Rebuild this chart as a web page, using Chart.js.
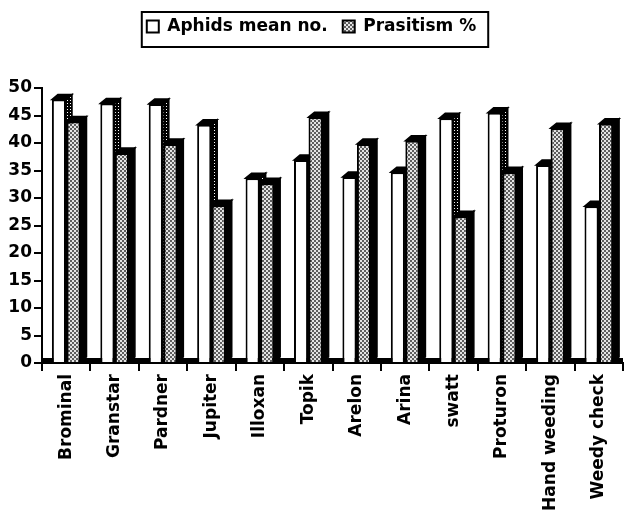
<!DOCTYPE html>
<html><head><meta charset="utf-8">
<script src="https://cdn.jsdelivr.net/npm/chart.js@4.4.1/dist/chart.umd.min.js"></script>
<style>html,body{margin:0;padding:0;background:#fff}#wrap{width:625px;height:513px}</style>
</head><body><div id="wrap"><canvas id="c" width="625" height="513"></canvas></div>
<script>
const categories = ['Brominal','Granstar','Pardner','Jupiter','Illoxan','Topik','Arelon','Arina','swatt','Proturon','Hand weeding','Weedy check'];
const aphidsMean = [47.9,47.2,47.1,43.3,33.6,36.9,33.8,34.7,44.5,45.5,36.0,28.5];
const parasitism = [43.9,38.2,39.8,28.7,32.7,44.7,39.8,40.4,26.7,34.7,42.7,43.5];
const seriesNames = ['Aphids mean no.','Prasitism %'];
const yMin = 0, yMax = 50, yStep = 5;

const DX = 6, DY = 5;
const FONT = "'DejaVu Sans', sans-serif";

function makePattern(w, h, draw) {
  const c = document.createElement('canvas'); c.width = w; c.height = h;
  const g = c.getContext('2d'); draw(g);
  return document.getElementById('c').getContext('2d').createPattern(c, 'repeat');
}
const grayPat = makePattern(4, 4, g => {
  g.fillStyle = '#5e5e5e'; g.fillRect(0,0,4,4);
  g.fillStyle = '#e4e4e4'; g.fillRect(0,0,2,2); g.fillRect(2,2,2,2);
});
const sidePat = makePattern(3, 3, g => {
  g.fillStyle = '#000'; g.fillRect(0,0,3,3);
  g.fillStyle = '#fff'; g.fillRect(1,1,1,1);
});

const depthPlugin = {
  id: 'depth',
  beforeDatasetsDraw(chart) {
    const {ctx, chartArea: a} = chart;
    ctx.save(); ctx.fillStyle = '#000';
    ctx.fillRect(a.left, a.bottom - DY, a.right - a.left, DY);
    ctx.strokeStyle = '#000'; ctx.lineWidth = 1.5; ctx.lineJoin = 'miter';
    const metas = [chart.getDatasetMeta(0), chart.getDatasetMeta(1)];
    for (let i = 0; i < categories.length; i++) {
      metas.forEach((meta, di) => {
        const bar = meta.data[i]; if (!bar) return;
        const {x, y, base, width} = bar.getProps(['x','y','base','width'], true);
        const L = x - width/2, R = x + width/2;
        ctx.beginPath();
        ctx.moveTo(R, y); ctx.lineTo(R + DX, y - DY); ctx.lineTo(R + DX, base - DY); ctx.lineTo(R, base); ctx.closePath();
        ctx.fillStyle = di === 0 ? sidePat : '#000'; ctx.fill(); ctx.stroke();
        ctx.beginPath();
        ctx.moveTo(L, y); ctx.lineTo(L + DX, y - DY); ctx.lineTo(R + DX, y - DY); ctx.lineTo(R, y); ctx.closePath();
        ctx.fillStyle = '#000'; ctx.fill(); ctx.stroke();
      });
    }
    ctx.restore();
  },
  afterDraw(chart) {
    const lg = chart.legend; if (!lg || !lg.legendHitBoxes) return;
    const hb = lg.legendHitBoxes, last = hb[hb.length-1];
    const l = hb[0].left - 5, r = last.left + last.width + 12, t = hb[0].top - 6, b = hb[0].top + 29;
    const ctx = chart.ctx;
    ctx.save(); ctx.strokeStyle = '#000'; ctx.lineWidth = 2;
    ctx.strokeRect(l, t, r - l, b - t); ctx.restore();
  }
};

const bg = { id: 'bg', beforeDraw(chart){ const c = chart.ctx; c.save(); c.fillStyle='#fff'; c.fillRect(0,0,chart.width,chart.height); c.restore(); } };

new Chart(document.getElementById('c'), {
  type: 'bar',
  data: {
    labels: categories,
    datasets: [
      { label: seriesNames[0], data: aphidsMean, backgroundColor: '#fff', borderColor: '#000', borderWidth: 2, categoryPercentage: 0.6, barPercentage: 0.97 },
      { label: seriesNames[1], data: parasitism, backgroundColor: grayPat, borderColor: '#000', borderWidth: 2, categoryPercentage: 0.6, barPercentage: 0.97 }
    ]
  },
  options: {
    responsive: false, animation: false,
    layout: { padding: { top: 3, left: 0, right: 2, bottom: 0 } },
    plugins: {
      legend: { position: 'top', labels: { boxWidth: 12, boxHeight: 12, padding: 15, color: '#000', font: { family: FONT, size: 17, weight: 'bold' } } },
      subtitle: { display: true, text: ' ', weight: 500, font: { size: 10 }, padding: { top: 0, bottom: 31 } },
      tooltip: { enabled: false }
    },
    scales: {
      x: {
        grid: { offset: true, drawOnChartArea: false, drawTicks: true, tickLength: 8, color: '#000', lineWidth: 2 },
        border: { display: true, color: '#000', width: 2 },
        ticks: { autoSkip: false, maxRotation: 90, minRotation: 90, color: '#000', padding: 3, font: { family: FONT, size: 17, weight: 'bold' } },
        afterFit(s) { s.height = 150; }
      },
      y: {
        min: yMin, max: yMax,
        grid: { drawOnChartArea: false, drawTicks: true, tickLength: 8, color: '#000', lineWidth: 2 },
        border: { display: true, color: '#000', width: 2 },
        ticks: { stepSize: yStep, color: '#000', padding: 2, font: { family: FONT, size: 17, weight: 'bold' } },
        afterFit(s) { s.width = 42; }
      }
    }
  },
  plugins: [bg, depthPlugin]
});
</script></body></html>
